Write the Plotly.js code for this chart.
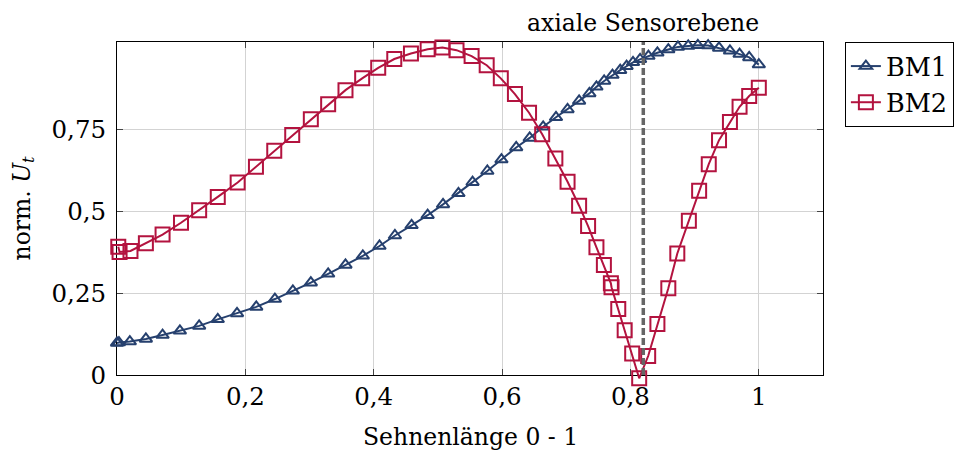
<!DOCTYPE html>
<html>
<head>
<meta charset="utf-8">
<script src="https://cdn.plot.ly/plotly-3.0.1.min.js"></script>
<style>html,body{margin:0;padding:0;background:#fff}#chart{width:973px;height:454px}</style>
</head>
<body>
<div id="chart"></div>
<script>
const bm1X = [0, 0.003, 0.020, 0.045, 0.071, 0.098, 0.128, 0.157, 0.187, 0.217, 0.246, 0.274, 0.302, 0.329, 0.356, 0.383, 0.409, 0.433, 0.459, 0.484, 0.508, 0.532, 0.554, 0.577, 0.599, 0.622, 0.643, 0.664, 0.684, 0.702, 0.720, 0.736, 0.747, 0.759, 0.772, 0.784, 0.794, 0.804, 0.815, 0.828, 0.842, 0.859, 0.874, 0.890, 0.905, 0.921, 0.938, 0.955, 0.970, 0.985, 1.0];
const bm1Y = [0.098, 0.099, 0.102, 0.110, 0.122, 0.135, 0.150, 0.170, 0.188, 0.208, 0.232, 0.257, 0.282, 0.309, 0.336, 0.364, 0.394, 0.426, 0.457, 0.488, 0.521, 0.555, 0.589, 0.623, 0.658, 0.695, 0.724, 0.758, 0.787, 0.811, 0.837, 0.860, 0.880, 0.898, 0.916, 0.931, 0.943, 0.955, 0.964, 0.974, 0.984, 0.994, 1.002, 1.005, 1.007, 1.006, 0.999, 0.990, 0.980, 0.970, 0.948];
const bm2X = [0.002, 0.004, 0.021, 0.045, 0.071, 0.0997, 0.128, 0.157, 0.188, 0.2165, 0.245, 0.273, 0.302, 0.329, 0.356, 0.382, 0.407, 0.432, 0.458, 0.484, 0.507, 0.529, 0.5525, 0.576, 0.598, 0.620, 0.642, 0.6625, 0.683, 0.702, 0.720, 0.734, 0.747, 0.7586, 0.7695, 0.7705, 0.781, 0.791, 0.8027, 0.8136, 0.8276, 0.842, 0.859, 0.873, 0.891, 0.907, 0.922, 0.938, 0.955, 0.970, 0.985, 1.0];
const bm2Y = [0.392, 0.376, 0.379, 0.402, 0.429, 0.465, 0.503, 0.544, 0.588, 0.636, 0.685, 0.733, 0.781, 0.827, 0.870, 0.906, 0.938, 0.965, 0.982, 0.995, 1.0, 0.992, 0.974, 0.946, 0.906, 0.858, 0.801, 0.735, 0.661, 0.590, 0.517, 0.455, 0.390, 0.336, 0.280, 0.268, 0.2015, 0.137, 0.066, -0.010, 0.058, 0.156, 0.265, 0.371, 0.471, 0.563, 0.644, 0.717, 0.773, 0.819, 0.852, 0.877];
const xTickVals = [0, 0.2, 0.4, 0.6, 0.8, 1];
const xTickText = ["0", "0,2", "0,4", "0,6", "0,8", "1"];
const yTickVals = [0, 0.25, 0.5, 0.75];
const yTickText = ["0", "0,25", "0,5", "0,75"];
const sensorX = 0.82;
const sensorLabel = "axiale Sensorebene";

const FONT = "DejaVu Serif";
const FS_TICK = 24.5, FS_TITLE = 23.5, FS_LEG = 25.5;
const BLUE = "#26406e";
const RED = "#b3133f";

// Plot area: px 42..385 ; visible frame (y axis) bottom at px 375
const plotTop = 42, plotBottom = 385, frameBottom = 375;
const yMax = 1.017;
const frameDomain0 = (plotBottom - frameBottom) / (plotBottom - plotTop);
const pxPerUnit = (frameBottom - plotTop) / yMax;
const y2Min = yMax - (plotBottom - plotTop) / pxPerUnit;

const traces = [
  {x: bm1X, y: bm1Y, name: "BM1", mode: "lines+markers", cliponaxis: false, xaxis: "x2", yaxis: "y2",
   line: {color: BLUE, width: 2},
   marker: {symbol: "triangle-up-open", size: 11, color: BLUE, line: {color: BLUE, width: 2}}},
  {x: bm2X, y: bm2Y, name: "BM2", mode: "lines+markers", cliponaxis: false, xaxis: "x2", yaxis: "y2",
   line: {color: RED, width: 2},
   marker: {symbol: "square-open", size: 14, color: RED, line: {color: RED, width: 2}}}
];

const axisCommon = {ticks: "inside", ticklen: 6, tickcolor: "#444", showline: true, linecolor: "#000",
  linewidth: 1, mirror: "ticks", showgrid: true, gridcolor: "#d3d3d3", gridwidth: 1, zeroline: false,
  tickfont: {family: FONT, size: FS_TICK}};

const layout = {
  width: 973, height: 454,
  margin: {l: 117, r: 150, t: plotTop, b: 454 - plotBottom, autoexpand: false},
  paper_bgcolor: "#fff", plot_bgcolor: "rgba(0,0,0,0)",
  font: {family: FONT, size: FS_TITLE, color: "#000"},
  showlegend: true,
  legend: {x: 1.031, y: 1, xanchor: "left", yanchor: "top", bordercolor: "#000", borderwidth: 1,
           font: {family: FONT, size: FS_LEG}, tracegroupgap: 0, bgcolor: "#fff"},
  xaxis: Object.assign({}, axisCommon, {range: [0, 1.1], tickvals: xTickVals, ticktext: xTickText, anchor: "y", domain: [0, 1]}),
  yaxis: Object.assign({}, axisCommon, {range: [0, yMax], tickvals: yTickVals, ticktext: yTickText, anchor: "x", domain: [frameDomain0, 1], ticklabelstandoff: 5}),
  xaxis2: {range: [0, 1.1], domain: [0, 1], anchor: "y2", visible: false, showgrid: false, zeroline: false},
  yaxis2: {range: [y2Min, yMax], domain: [0, 1], anchor: "x2", visible: false, showgrid: false, zeroline: false},
  shapes: [{type: "line", xref: "x", yref: "y", x0: sensorX, x1: sensorX, y0: 0, y1: yMax,
            line: {color: "#666", width: 3.5, dash: "7px,3px"}}],
  annotations: [
    {text: sensorLabel, xref: "x", yref: "paper", x: sensorX, y: 1, yanchor: "bottom", yshift: 3,
     showarrow: false, font: {family: FONT, size: FS_TITLE}},
    {text: "Sehnenlänge 0 - 1", xref: "paper", yref: "paper", x: 0.5, y: frameDomain0, yanchor: "middle", yshift: -62,
     showarrow: false, font: {family: FONT, size: FS_TITLE}},
    {text: "norm. <i>U</i><sub><i>t</i></sub>", xref: "paper", yref: "paper", x: 0, y: (frameDomain0 + 1) / 2, xanchor: "center",
     xshift: -94, textangle: -90, showarrow: false, font: {family: FONT, size: FS_TITLE}}
  ]
};

Plotly.newPlot("chart", traces, layout, {displayModeBar: false, staticPlot: true});
</script>
</body>
</html>
